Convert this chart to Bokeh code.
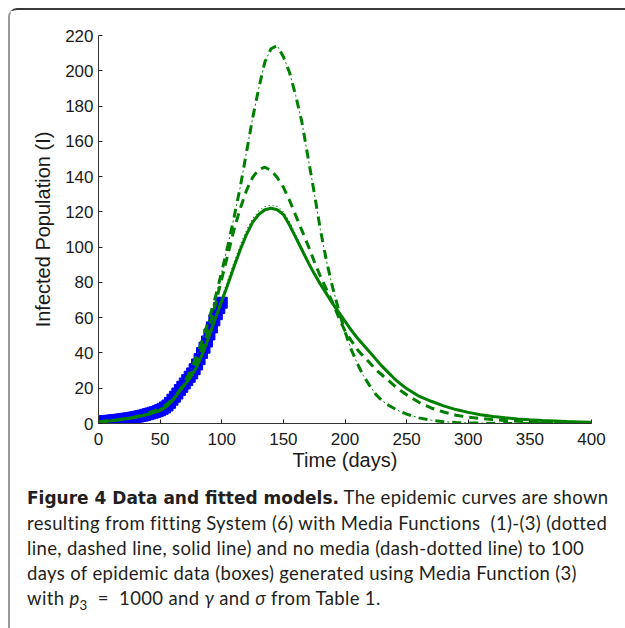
from bokeh.plotting import figure
from bokeh.models import Range1d, FixedTicker, Div, ColumnDataSource
from bokeh.layouts import column
from bokeh.embed import file_html
from bokeh.resources import INLINE

# ---------------- data ----------------
t_model = [0, 5, 10, 15, 20, 25, 30, 35, 40, 45,
           50, 55, 60, 65, 70, 75, 80, 85, 90, 95,
           100, 105, 110, 115, 120, 125, 130, 135, 140, 145,
           150, 155, 160, 165, 170, 175, 180, 185, 190, 195,
           200, 205, 210, 215, 220, 225, 230, 235, 240, 245,
           250,
           260, 270, 280, 290, 300, 310, 320, 330, 340, 350, 360, 370, 380, 390, 400]

# Media Function (1) - dotted
I_mf1 = [1.0, 1.3, 1.6, 2.0, 2.5, 3.0, 3.6, 4.3, 5.2, 6.2,
         7.4, 9.5, 13, 17.5, 22.2, 27, 33.2, 41.5, 51.2, 61.5,
         71.5, 81.5, 91.5, 101, 109.5, 116, 120.5, 123, 123.8, 123,
         120, 114.5, 107, 99.5, 92.5, 86, 80, 74.5, 69, 63.5,
         58.5, 53.5, 49, 44.5, 40.5, 36.5, 32.5, 29, 25.5, 22.5,
         19.8,
         15.4, 12.4, 9.8, 7.8, 6.2, 4.9, 3.9, 3.1, 2.5, 2.0, 1.6, 1.3, 1.0, 0.8, 0.6]

# Media Function (2) - dashed
I_mf2 = [1.0, 1.3, 1.6, 2.0, 2.5, 3.0, 3.6, 4.3, 5.2, 6.2,
         7.5, 9.6, 13.2, 17.8, 22.5, 28, 35, 44, 55, 68,
         82, 96, 110, 122, 132, 139.5, 144, 145.3, 143.5, 139.5,
         134, 126.5, 118, 109.5, 101, 92, 83.5, 76, 68.5, 60,
         52.5, 47, 42, 38, 34.5, 30.5, 27.5, 24.5, 21.5, 18.7,
         16.3,
         12, 8.8, 6.5, 4.7, 3.6, 2.9, 2.2, 1.7, 1.3, 1.0, 0.8, 0.6, 0.5, 0.4, 0.3]

# Media Function (3) - solid
I_mf3 = [1.0, 1.3, 1.6, 2.0, 2.5, 3.0, 3.6, 4.3, 5.2, 6.2,
         7.4, 9.5, 13, 17.5, 22, 26.5, 32.5, 40.5, 50, 60,
         69.5, 79, 89, 98.5, 107, 114, 118.5, 121.2, 122, 121.2,
         118.5, 112.5, 105.5, 98.5, 91.5, 85, 79, 73.5, 68, 63,
         58, 53, 48.5, 44.5, 40.5, 36.5, 32.5, 29, 25.5, 22.5,
         19.8,
         15.5, 12.6, 10, 7.9, 6.3, 5, 4, 3.2, 2.6, 2.1, 1.7, 1.4, 1.1, 0.9, 0.7]

# No media - dash-dotted
I_none = [1.0, 1.3, 1.6, 2.0, 2.5, 3.1, 3.8, 4.7, 5.8, 7.1,
          8.7, 10.8, 13.8, 18, 23.5, 30.5, 39, 49, 60, 72,
          86, 101, 117, 134, 153.5, 173, 190, 205, 212.5, 214.3,
          208, 199, 186, 171, 151, 131, 110, 92, 77, 64,
          52, 42, 34, 27, 21.5, 16.5, 13, 10.5, 8.5, 6.7,
          5.3,
          3.2, 1.9, 1.0, 0.6, 0.35, 0.2, 0.12, 0.07, 0.04, 0.02, 0.01, 0.01, 0.0, 0.0, 0.0]

# epidemic data (boxes)
t_data = list(range(0, 101, 2))
I_data = [1.0, 1.1, 1.2, 1.4, 1.5, 1.6, 1.8, 1.9, 2.1, 2.3,
          2.5, 2.7, 2.9, 3.1, 3.4, 3.6, 3.9, 4.2, 4.5, 4.9,
          5.3, 5.7, 6.1, 6.5, 7.0, 7.6, 8.3, 9.1, 10.2, 11.7,
          13.5, 15.2, 17, 19, 20.8, 22.7, 24.6, 26.5, 28.4, 30.8,
          33.5, 36.5, 40, 43, 46.5, 50.5, 54.5, 58.5, 62, 65.5,
          68.5]

x_ticks = [0, 50, 100, 150, 200, 250, 300, 350, 400]
y_ticks = [0, 20, 40, 60, 80, 100, 120, 140, 160, 180, 200, 220]

# ---------------- figure ----------------
GREEN = "#008000"
BLUE = "#0000ff"
TICK_FONT = "Liberation Sans"

p = figure(width=607, height=470, frame_width=493, frame_height=388,
           x_range=Range1d(0, 400), y_range=Range1d(0, 220),
           output_backend="svg", toolbar_location=None,
           min_border_left=88, min_border_top=25, min_border_right=26, min_border_bottom=57)
p.outline_line_color = None
p.grid.visible = False
p.background_fill_color = "white"
p.border_fill_color = "white"

model_src = ColumnDataSource(dict(t=t_model, mf1=I_mf1, mf2=I_mf2, mf3=I_mf3, none=I_none))
data_src = ColumnDataSource(dict(t=t_data, I=I_data))

p.scatter("t", "I", source=data_src, marker="square", size=11,
          fill_color=BLUE, line_color=BLUE)

# dotted (MF1)
p.line("t", "mf1", source=model_src, line_color=GREEN, line_width=1.2, line_dash="1 3")
# dashed (MF2)
p.line("t", "mf2", source=model_src, line_color=GREEN, line_width=3, line_dash="9 6")
# dash-dotted (no media): thick dashes + thin dots in the gaps
p.line("t", "none", source=model_src, line_color=GREEN, line_width=3, line_dash="9 8")
p.line("t", "none", source=model_src, line_color=GREEN, line_width=1, line_dash="2 15",
       line_dash_offset=5)
# solid (MF3)
p.line("t", "mf3", source=model_src, line_color=GREEN, line_width=3)

for ax, ticks in ((p.xaxis, x_ticks), (p.yaxis, y_ticks)):
    ax.ticker = FixedTicker(ticks=ticks)
    ax.minor_tick_line_color = None
    ax.major_tick_in = 4
    ax.major_tick_out = 0
    ax.major_tick_line_color = "#222222"
    ax.axis_line_color = "#333333"
    ax.axis_line_width = 1
    ax.major_label_text_font = TICK_FONT
    ax.major_label_text_font_size = "17px"
    ax.major_label_text_color = "#1a1a1a"
    ax.axis_label_text_font = TICK_FONT
    ax.axis_label_text_font_size = "20px"
    ax.axis_label_text_font_style = "normal"
    ax.axis_label_text_color = "#1a1a1a"

p.xaxis.axis_label = "Time (days)"
p.yaxis.axis_label = "Infected Population (I)"
p.xaxis.major_label_standoff = 9
p.xaxis.axis_label_standoff = 1
p.yaxis.major_label_standoff = 5
p.yaxis.axis_label_standoff = 8

caption_html = (
    '<div style="font-family:Lato, sans-serif; font-size:18.5px; letter-spacing:0.35px; '
    'line-height:25px; color:#231f20; padding-left:12px; padding-top:0px; white-space:nowrap;">'
    '<b style="font-family:\'DejaVu Sans\', sans-serif; font-size:17px; letter-spacing:0px;">'
    'Figure 4 Data and fitted models.</b> The epidemic curves are shown<br>'
    'resulting from fitting System (6) with Media Functions&nbsp; (1)-(3) (dotted<br>'
    'line, dashed line, solid line) and no media (dash-dotted line) to 100<br>'
    'days of epidemic data (boxes) generated using Media Function (3)<br>'
    'with <i>p</i><sub style="font-size:0.72em; line-height:0;">3</sub>&nbsp;&nbsp;=&nbsp;&nbsp;1000 and '
    '<i>&gamma;</i> and <i>&sigma;</i> from Table 1.'
    '</div>'
)
caption = Div(text=caption_html, width=605, height=138)

layout = column(p, caption, spacing=0,
                styles={"margin-left": "8px", "margin-top": "8px",
                        "border-top": "2px solid #3a3a3a",
                        "border-left": "2px solid #9a9a9a",
                        "border-top-left-radius": "9px",
                        "background": "white"})

open("out.html", "w").write(file_html(layout, INLINE))
